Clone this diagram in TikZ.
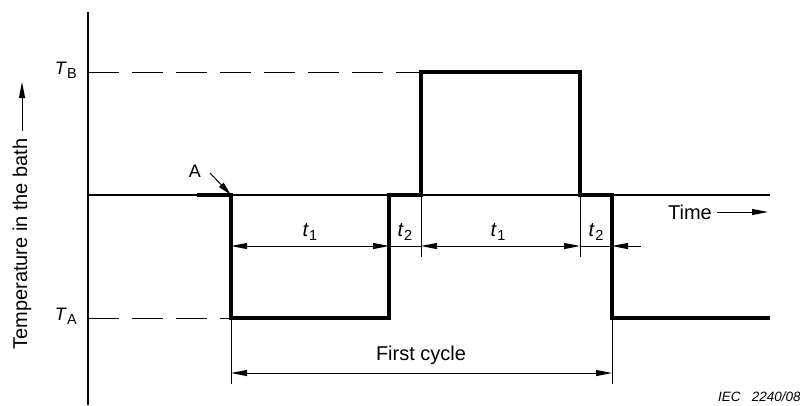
\documentclass[tikz,border=0pt]{standalone}
\usepackage{fontspec}
\setmainfont{Liberation Sans}
\usetikzlibrary{arrows.meta}
% italic symbol with upright subscript, e.g. T_B, t_1
\newcommand\symsub[2]{\textit{#1}\kern0.3pt\raisebox{-0.22em}{\fontsize{14.5}{15}\selectfont #2}}

\begin{document}
\begin{tikzpicture}[x=1pt,y=-1pt,
  thinline/.style={line width=1.1pt},
  wave/.style={line width=3.2pt, line join=miter},
  dimline/.style={line width=1pt},
  guide/.style={line width=1pt, dash pattern=on 31pt off 13pt},
  tipend/.style={-{Triangle[length=16pt,width=6pt]}},
  tipboth/.style={{Triangle[length=16pt,width=6pt]}-{Triangle[length=16pt,width=6pt]}},
  lbl/.style={font=\fontsize{20}{23}\selectfont, inner sep=0pt},
  smalllbl/.style={font=\fontsize{18}{21}\selectfont, inner sep=0pt}
]
\useasboundingbox (0,0) rectangle (800,405);

% axes
\coordinate (axtop) at (88,12);
\coordinate (axbot) at (88,405);
\coordinate (basel) at (88,195);
\coordinate (baser) at (770,195);
\draw[thinline] (axtop) -- (axbot);
\draw[thinline] (basel) -- (baser);

% temperature levels
\coordinate (tbl) at (88,72);
\coordinate (tbr) at (420,72);
\coordinate (tal) at (88,318);
\coordinate (tar) at (231,318);
\draw[guide] (tbl) -- (tbr);
\draw[guide] (tal) -- (tar);
\node[smalllbl, anchor=east] (TB) at (77,70) {\symsub{T}{B}};
\node[smalllbl, anchor=east] (TA) at (77,316) {\symsub{T}{A}};

% temperature profile
\coordinate (p0) at (197,195);
\coordinate (p1) at (231,195);
\coordinate (p2) at (231,318);
\coordinate (p3) at (389,318);
\coordinate (p4) at (389,195);
\coordinate (p5) at (421,195);
\coordinate (p6) at (421,72);
\coordinate (p7) at (580,72);
\coordinate (p8) at (580,195);
\coordinate (p9) at (612,195);
\coordinate (p10) at (612,318);
\coordinate (p11) at (770,318);
\draw[wave] (p0) -- (p1) -- (p2) -- (p3) -- (p4) -- (p5) -- (p6) -- (p7) -- (p8) -- (p9) -- (p10) -- (p11);

% extension lines
\coordinate (e2) at (231,384);
\coordinate (e10) at (612,384);
\coordinate (e5) at (421,257);
\coordinate (e8) at (580,257);
\draw[dimline] (p2) -- (e2);
\draw[dimline] (p10) -- (e10);
\draw[dimline] (p5) -- (e5);
\draw[dimline] (p8) -- (e8);

% dwell time dimensions
\coordinate (d1) at (231,246);
\coordinate (d2) at (389,246);
\coordinate (d3) at (421,246);
\coordinate (d4) at (580,246);
\coordinate (d5) at (612,246);
\coordinate (d6) at (641,246);
\draw[dimline, tipboth] (d1) -- (d2);
\draw[dimline] (d2) -- (d3);
\draw[dimline, tipboth] (d3) -- (d4);
\draw[dimline] (d4) -- (d5);
\draw[dimline, tipend] (d6) -- (d5);
\node[lbl] (t1a) at (310,232) {\symsub{t}{1}};
\node[lbl] (t2a) at (405,232) {\symsub{t}{2}};
\node[lbl] (t1b) at (498,232) {\symsub{t}{1}};
\node[lbl] (t2b) at (596,232) {\symsub{t}{2}};

% first cycle
\coordinate (c1) at (231,373);
\coordinate (c2) at (612,373);
\draw[dimline, tipboth] (c1) -- (c2);
\node[lbl] (cyc) at (421,355) {First cycle};

% point A
\node[smalllbl] (A) at (195,171) {A};
\coordinate (Atail) at (210,173);
\draw[dimline, {-Triangle[length=14pt,width=6pt]}] (Atail) -- (p1);

% time axis label
\node[lbl] (time) at (690,212) {Time};
\coordinate (tt1) at (717,212);
\coordinate (tt2) at (768,212);
\draw[dimline, tipend] (tt1) -- (tt2);

% temperature axis label
\node[lbl, rotate=90] (temp) at (22,244) {Temperature in the bath};
\coordinate (ya1) at (22,131);
\coordinate (ya2) at (22,82);
\draw[dimline, tipend] (ya1) -- (ya2);

% figure reference
\node[font=\fontsize{13.5}{15}\selectfont\itshape, inner sep=0pt, anchor=west] (ref) at (718,397) {IEC\ \ \ 2240/08};
\end{tikzpicture}
\end{document}
